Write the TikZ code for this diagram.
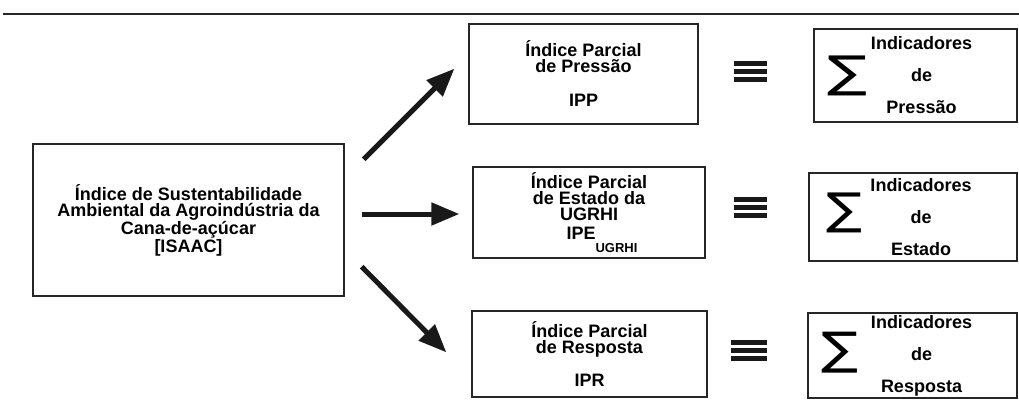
\documentclass[tikz,border=0pt]{standalone}
\usepackage{fontspec}
\setmainfont{Liberation Sans}
\newfontfamily\symfont{DejaVu Sans}
\usepackage{tikz}
\usetikzlibrary{positioning,arrows.meta}

\begin{document}
\begin{tikzpicture}[
    x=1pt, y=-1pt,
    font=\bfseries\fontsize{18}{16}\selectfont,
    box/.style={rectangle, draw=black!85, line width=1.3pt, inner sep=0pt, align=center},
    sumtext/.style={align=center, inner sep=0pt, font=\bfseries\fontsize{18}{32}\selectfont},
    sigma/.style={inner sep=0pt},
    arrow/.style={-{Triangle[length=28pt,width=22pt]}, line width=5pt, black!90},
    bar/.style={line width=5pt, black!90}
]
\useasboundingbox (0,0) rectangle (1019,405);

\draw[line width=2pt, black!85] (3,14) -- (1019,14);

\node[box, minimum width=311pt, minimum height=152pt] (isaac) at (188.5,220)
    {\'Indice de Sustentabilidade\\Ambiental da Agroind\'ustria da\\Cana-de-a\c{c}\'ucar\\{[ISAAC]}};

\node[box, minimum width=229pt, minimum height=100pt] (ipp) at (583.5,74)
    {\'Indice Parcial\\de Press\~ao\\[18pt]IPP};
\node[box, minimum width=232pt, minimum height=91pt] (ipe) at (589,212.5)
    {\'Indice Parcial\\de Estado da\\UGRHI\\[3pt]\hspace*{26pt}IPE\raisebox{-13pt}{\fontsize{13}{13}\selectfont UGRHI}};
\node[box, minimum width=235pt, minimum height=86pt] (ipr) at (589.5,354)
    {\'Indice Parcial\\de Resposta\\[15pt]IPR};

\node[box, minimum width=203pt, minimum height=93pt] (somap) at (915.5,75.5) {};
\node[box, minimum width=208pt, minimum height=88pt] (somae) at (913,217) {};
\node[box, minimum width=209pt, minimum height=85pt] (somar) at (912.5,355.5) {};

\node[sumtext] (txtp) at ([xshift=6pt]somap.center) {Indicadores\\de\\Press\~ao};
\node[sumtext] (txte) at ([xshift=8pt]somae.center) {Indicadores\\de\\Estado};
\node[sumtext] (txtr) at ([xshift=9pt]somar.center) {Indicadores\\de\\Resposta};

\node[sigma, right=14pt of somap.west] (sigp) {\resizebox*{40pt}{40pt}{\symfont\mdseries ∑}};
\node[sigma, right=18pt of somae.west, yshift=4pt] (sige) {\resizebox*{36pt}{40pt}{\symfont\mdseries ∑}};
\node[sigma, right=14pt of somar.west, yshift=3pt] (sigr) {\resizebox*{37pt}{41pt}{\symfont\mdseries ∑}};

% equivalence signs
\foreach \yy in {63,71,79} \draw[bar] (734,\yy) -- (767,\yy);
\foreach \yy in {199,207,215} \draw[bar] (734,\yy) -- (767,\yy);
\foreach \yy in {342,350,358} \draw[bar] (731,\yy) -- (767,\yy);

\draw[arrow] ([shift={(19,16)}]isaac.north east) -- ([shift={(-14,-56)}]ipp.south west);
\draw[arrow] ([shift={(17,-6)}]isaac.east) -- ([shift={(-13,1.5)}]ipe.west);
\draw[arrow] ([shift={(17,-30)}]isaac.south east) -- ([shift={(-25,42)}]ipr.north west);

\end{tikzpicture}
\end{document}
